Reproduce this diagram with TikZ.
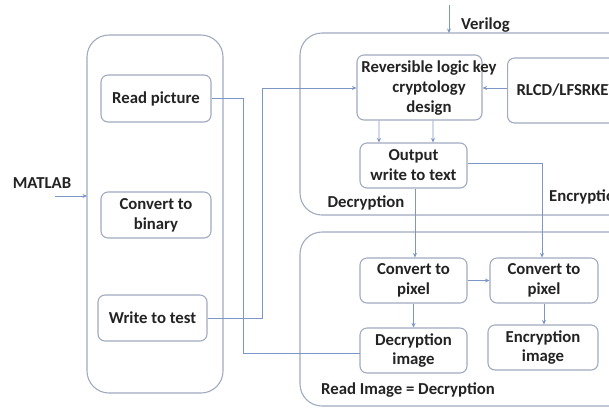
\documentclass[tikz,border=0pt]{standalone}
\usepackage{fontspec}
\setmainfont{Carlito}
\usetikzlibrary{arrows.meta}
\definecolor{linec}{RGB}{125,150,200}
\definecolor{boxc}{RGB}{160,170,192}
\definecolor{txtc}{RGB}{35,35,35}
\tikzset{
  box/.style={draw=boxc, line width=1.1pt, rounded corners=7bp, align=center, inner sep=0pt, text=txtc,
    font=\fontsize{16.8}{20}\selectfont\bfseries},
  frame/.style={draw=boxc, line width=1.1pt, rounded corners=22bp},
  conn/.style={draw=linec, line width=0.8pt},
  arr/.style={conn, -{Stealth[length=4.5bp,width=4bp]}},
  lbl/.style={text=txtc, inner sep=0pt, font=\fontsize{16.8}{20}\selectfont\bfseries}
}
\begin{document}
\begin{tikzpicture}[x=1bp,y=-1bp]
\useasboundingbox (0,0) rectangle (609,407);
\clip (0,0) rectangle (609,407);
\fill[white] (0,0) rectangle (609,407);
% containers
\draw[frame] (87,35) rectangle (223,393);
\draw[frame] (300,33) rectangle (700,215);
\draw[frame] (300,232) rectangle (700,406);
% left boxes
\node[box, minimum width=110bp, minimum height=47bp] (rp) at (156,98.5) {Read picture};
\node[box, minimum width=110bp, minimum height=46bp] (cb) at (156,215) {Convert to\\binary};
\node[box, minimum width=109bp, minimum height=46bp] (wt) at (152.5,318) {Write to test};
% top right boxes
\node[box, minimum width=125bp, minimum height=65bp] (rev) at (419.5,87.5) {};
\node[lbl, align=center] (revtext) at (429,88) {Reversible logic key\\cryptology\\design};
\node[box, minimum width=150bp, minimum height=65bp, anchor=west, text width=140bp, align=left] (rl) at (507,90.5) {\hspace*{4bp}RLCD/LFSRKEY};
\node[box, minimum width=107bp, minimum height=45bp] (out) at (413.5,165.5) {Output\\write to text};
% bottom right boxes
\node[box, minimum width=107bp, minimum height=45bp] (cpl) at (413.5,280.5) {Convert to\\pixel};
\node[box, minimum width=108bp, minimum height=45bp] (cpr) at (544,280.5) {Convert to\\pixel};
\node[box, minimum width=107bp, minimum height=45bp] (di) at (413.5,350.5) {Decryption\\image};
\node[box, minimum width=110bp, minimum height=45bp] (ei) at (543,347.5) {Encryption\\image};
% labels
\node[lbl] (matlab) at (42,183) {MATLAB};
\node[lbl, anchor=west] (verilog) at (461,25) {Verilog};
\node[lbl] (dec) at (366,203) {Decryption};
\node[lbl, anchor=west] (enc) at (549,197) {Encryption};
\node[lbl] (readimg) at (408,390) {Read Image = Decryption};
% coordinates
\coordinate (mA) at (55,196);
\coordinate (mB) at (87,196);
\coordinate (vA) at (449,5);
\coordinate (vB) at (449,33);
\coordinate (rpc) at (243,98);
\coordinate (rpd) at (243,353);
\coordinate (dil) at (360,353);
\coordinate (wtc) at (262,318);
% connectors
\draw[arr] (mA) -- (mB);
\draw[arr] (vA) -- (vB);
\draw[conn] (rp.east |- rpc) -- (rpc) -- (rpd) -- (dil);
\draw[arr] (wt.east) -- (wtc) |- (rev.west |- 0,88);
\draw[arr] (rl.west |- 0,88) -- (rev.east |- 0,88);
\draw[arr] ([xshift=-40.5bp]rev.south) -- ([xshift=-34.5bp]out.north);
\draw[arr] ([xshift=13.5bp]rev.south) -- ([xshift=19.5bp]out.north);
\draw[arr] ([xshift=1.5bp]out.south) -- ([xshift=1.5bp]cpl.north);
\draw[arr] (out.east |- 0,163) -| ([xshift=-2bp]cpr.north);
\draw[arr] (cpl.east) -- (cpr.west);
\draw[arr] (cpl.south) -- (di.north);
\draw[arr] (cpr.south) -- (cpr.south |- ei.north);
\end{tikzpicture}
\end{document}
